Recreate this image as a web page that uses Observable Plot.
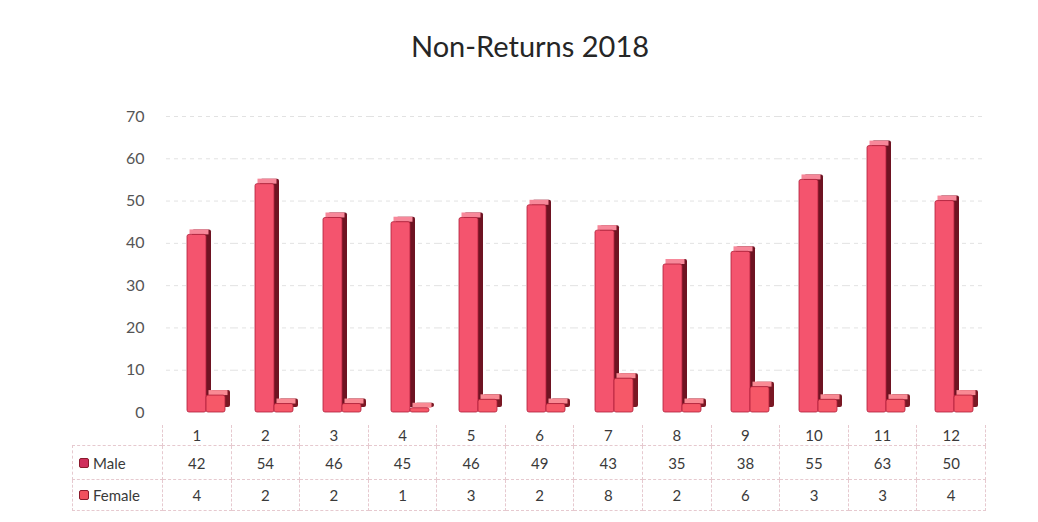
<!DOCTYPE html>
<html><head><meta charset="utf-8">
<script src="https://cdn.jsdelivr.net/npm/d3@7"></script>
<script src="https://cdn.jsdelivr.net/npm/@observablehq/plot@0.6"></script>
<style>
body{margin:0;background:#fff;}
#wrap{width:1038px;height:522px;position:relative;overflow:hidden;font-family:Lato,"Open Sans",sans-serif;background:#fff;}
#title{height:90px;box-sizing:border-box;padding-top:30px;padding-left:22px;text-align:center;font-size:29px;color:#262626;line-height:32px;}
#chart svg{display:block;}
table{border-collapse:collapse;table-layout:fixed;margin-left:72px;font-size:15px;color:#3a3a3a;}
td{text-align:center;padding:0;border:1px dashed #e6c9cf;white-space:nowrap;}
tr.head td{height:19px;border-top:none;vertical-align:bottom;padding-bottom:1px;}
tr.head td.lab{border:none;}
tr.male td{height:33px;}
tr.female td{height:30px;}
td.lab{text-align:left;padding-left:6px;}
.key{display:inline-block;width:8px;height:8px;margin-right:4px;vertical-align:1px;border:1px solid #8a1a2c;border-radius:2px;}
</style>
</head><body>
<div id="wrap">
  <div id="title"></div>
  <div id="chart"></div>
  <div id="tbl"></div>
</div>
<script>
const titleText = "Non-Returns 2018";
const months = ["1","2","3","4","5","6","7","8","9","10","11","12"];
const seriesNames = ["Male","Female"];
const male = [42,54,46,45,46,49,43,35,38,55,63,50];
const female = [4,2,2,1,3,2,8,2,6,3,3,4];
const yTicks = [0,10,20,30,40,50,60,70];
const frontColors = {Male:"#f4546e", Female:"#f65868"};
const sideColors = {Male:"#6e1322", Female:"#7a1824"};
const topColors = {Male:"#f7889a", Female:"#f98a94"};
const keyColors = {Male:"#cf2f5c", Female:"#f0505e"};

document.getElementById("title").textContent = titleText;

const data = months.flatMap((m,i)=>[
  {month:m, series:"Male", value:male[i]},
  {month:m, series:"Female", value:female[i]}
]);
const depth = 5;
const marks = [
  Plot.ruleY(yTicks.slice(1), {stroke:"#e2e2e2", strokeDasharray:"4,4"})
];
for (const s of seriesNames) {
  const d = data.filter(r=>r.series===s);
  marks.push(Plot.barY(d, {fx:"month", x:"series", y:"value", fill:sideColors[s], dx:depth, dy:-depth, rx:2}));
  marks.push(Plot.barY(d, {fx:"month", x:"series", y1:"value", y2:"value", insetTop:-depth, dx:depth/2, fill:topColors[s]}));
  marks.push(Plot.barY(d, {fx:"month", x:"series", y:"value", fill:frontColors[s], stroke:"#b0203a", strokeWidth:0.8, rx:2}));
}
const chart = Plot.plot({
  width:1038, height:335,
  marginLeft:162, marginRight:53, marginTop:26, marginBottom:13,
  fx:{domain:months, padding:0, axis:null},
  x:{domain:seriesNames, paddingInner:0, paddingOuter:0.715, align:0.7, axis:null},
  y:{domain:[0,70], ticks:yTicks, tickSize:0, tickPadding:22, label:null},
  style:{fontSize:"16px", color:"#555", fontFamily:"Lato, 'Open Sans', sans-serif", background:"transparent"},
  marks
});
document.getElementById("chart").appendChild(chart);

// data table
const colW = (1038-162-53)/months.length;
const table = document.createElement("table");
table.style.width = (90 + colW*months.length) + "px";
const cg = document.createElement("colgroup");
cg.innerHTML = `<col style="width:90px">` + months.map(()=>`<col style="width:${colW}px">`).join("");
table.appendChild(cg);
const head = document.createElement("tr"); head.className="head";
head.innerHTML = `<td class="lab"></td>` + months.map(m=>`<td>${m}</td>`).join("");
table.appendChild(head);
const vals = {Male:male, Female:female};
for (const s of seriesNames) {
  const tr = document.createElement("tr"); tr.className = s.toLowerCase();
  tr.innerHTML = `<td class="lab"><span class="key" style="background:${keyColors[s]}"></span>${s}</td>` + vals[s].map(v=>`<td>${v}</td>`).join("");
  table.appendChild(tr);
}
document.getElementById("tbl").appendChild(table);
</script>
</body></html>
